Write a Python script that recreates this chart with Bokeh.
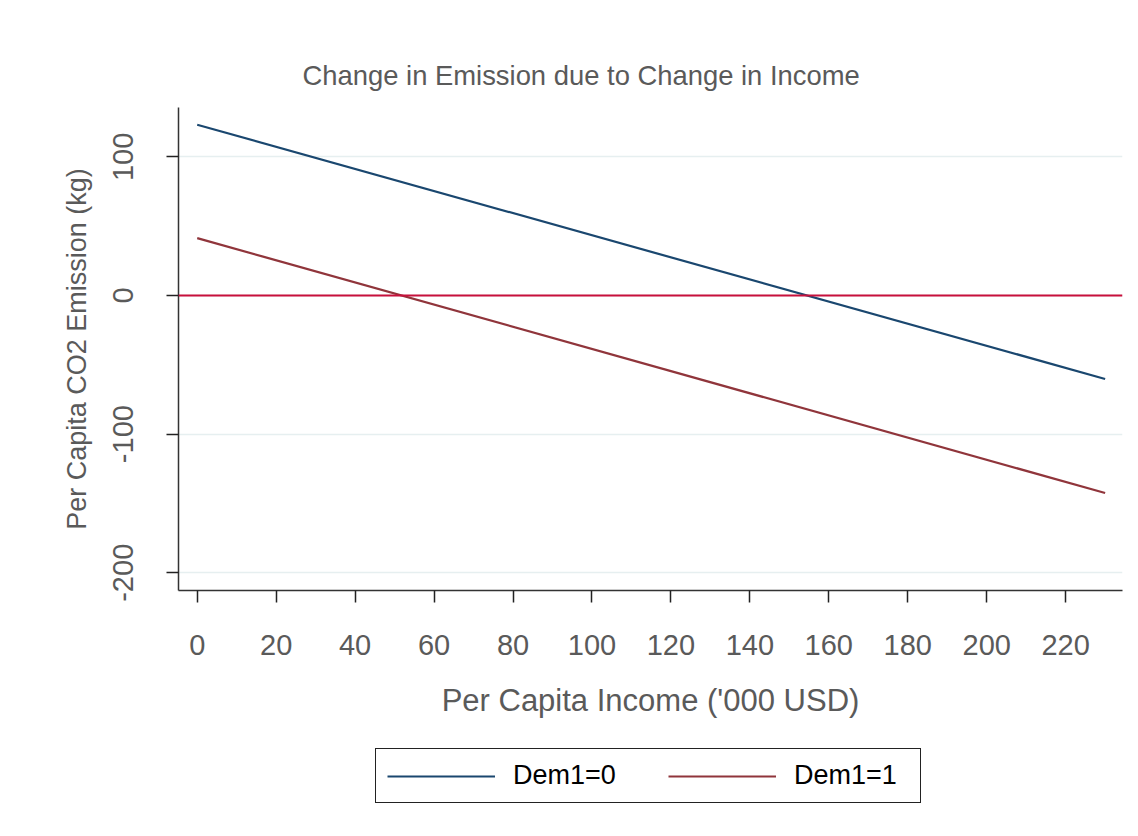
from bokeh.plotting import figure
from bokeh.layouts import column
from bokeh.models import Range1d, FixedTicker, Span, Legend, LegendItem
from bokeh.embed import file_html
from bokeh.resources import INLINE

# ---- data ----
income = [0, 230]
emission_dem0 = [123.2, -60.2]
emission_dem1 = [41.4, -142.5]
zero_level = 0
x_ticks = [0, 20, 40, 60, 80, 100, 120, 140, 160, 180, 200, 220]
y_ticks = [-200, -100, 0, 100]
series_labels = ["Dem1=0", "Dem1=1"]
title_text = "Change in Emission due to Change in Income"
x_label = "Per Capita Income ('000 USD)"
y_label = "Per Capita CO2 Emission (kg)"

FONT = "Liberation Sans"
GREY = "#5a5a5a"
NAVY = "#1a476f"
MAROON = "#90353b"
CRIMSON = "#c8103c"

p = figure(width=1130, height=738, output_backend="svg", toolbar_location=None,
           x_range=Range1d(-4.74, 234.4), y_range=Range1d(-212.8, 135.6),
           min_border_left=178, min_border_right=8, min_border_top=107,
           min_border_bottom=148, outline_line_color=None,
           background_fill_color="white", border_fill_color="white")

p.title.text = title_text
p.title.text_font = FONT
p.title.text_font_size = "27.4px"
p.title.text_font_style = "normal"
p.title.text_color = GREY
p.title.align = "left"
p.title.offset = 124
p.title.standoff = 33

# axes
for ax in (p.xaxis[0], p.yaxis[0]):
    ax.axis_line_color = "#333333"
    ax.axis_line_width = 1.5
    ax.major_tick_line_color = "#222222"
    ax.major_tick_line_width = 1.5
    ax.major_tick_out = 12
    ax.major_tick_in = 0
    ax.minor_tick_out = 0
    ax.minor_tick_in = 0
    ax.major_label_text_font = FONT
    ax.major_label_text_font_size = "29px"
    ax.major_label_text_color = GREY
    ax.axis_label_text_font = FONT
    ax.axis_label_text_font_style = "normal"
    ax.axis_label_text_color = GREY

p.xaxis[0].ticker = FixedTicker(ticks=x_ticks)
p.yaxis[0].ticker = FixedTicker(ticks=y_ticks)
p.yaxis[0].major_label_overrides = {t: str(t) for t in y_ticks}
p.xaxis[0].axis_label = x_label
p.yaxis[0].axis_label = y_label
p.xaxis[0].axis_label_text_font_size = "31px"
p.yaxis[0].axis_label_text_font_size = "27px"
p.xaxis[0].major_label_standoff = 32
p.yaxis[0].major_label_standoff = 33
p.yaxis[0].major_label_orientation = "vertical"
p.xaxis[0].axis_label_standoff = 25
p.yaxis[0].axis_label_standoff = 19

p.xgrid.visible = False
p.ygrid.grid_line_color = "#e6eff0"
p.ygrid.grid_line_width = 1.5

# lines
zero = Span(location=zero_level, dimension="width", line_color=CRIMSON, line_width=2)
p.add_layout(zero)
p.line(income, emission_dem0, line_color=NAVY, line_width=2.2)
p.line(income, emission_dem1, line_color=MAROON, line_width=2.2)

# legend strip below the chart (its own small figure so the box is not clipped)
leg = figure(width=1130, height=82, output_backend="svg", toolbar_location=None,
             x_range=Range1d(0, 1), y_range=Range1d(0, 1),
             x_axis_location=None, y_axis_location=None,
             min_border_left=0, min_border_right=0, min_border_top=0,
             min_border_bottom=0, outline_line_color=None,
             background_fill_color="white", border_fill_color="white")
leg.grid.visible = False
# same series; the strip's ranges keep the lines themselves out of view
l0 = leg.line(income, emission_dem0, line_color=NAVY, line_width=2.2)
l1 = leg.line(income, emission_dem1, line_color=MAROON, line_width=2.2)

legend = Legend(items=[LegendItem(label=series_labels[0], renderers=[l0]),
                       LegendItem(label=series_labels[1], renderers=[l1])],
                orientation="horizontal", location=(197, 17),
                label_text_font=FONT, label_text_font_size="27px",
                label_text_color="black",
                glyph_width=108, label_standoff=18, spacing=40,
                label_width=115, padding=11,
                border_line_color="#222222", border_line_width=1.5,
                border_line_alpha=1.0,
                background_fill_alpha=1.0, margin=0)
leg.add_layout(legend, "center")

open("out.html", "w").write(file_html(column(p, leg, spacing=0), INLINE))
